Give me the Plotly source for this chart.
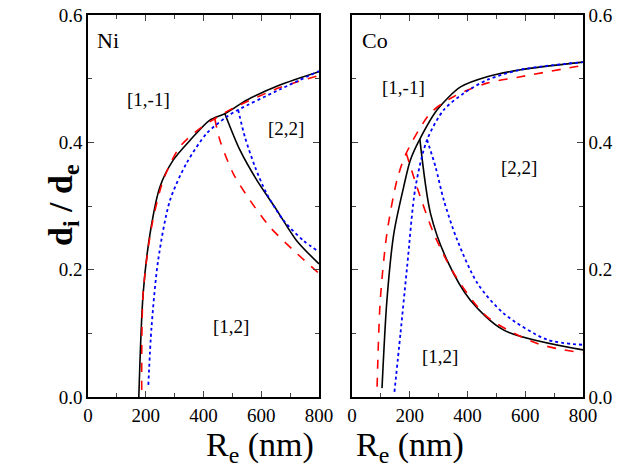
import plotly.graph_objects as go

# Ni panel
ni_black_up_x = [176, 191, 215, 249, 295, 353, 422, 474, 549, 664, 800]
ni_black_up_y = [0.0, 0.163, 0.257, 0.33, 0.372, 0.403, 0.435, 0.445, 0.466, 0.49, 0.511]
ni_black_lo_x = [474, 526, 584, 653, 722, 800]
ni_black_lo_y = [0.445, 0.388, 0.341, 0.294, 0.246, 0.209]

ni_red_up_x = [186, 191, 220, 261, 318, 388, 439, 491, 664, 800]
ni_red_up_y = [0.011, 0.163, 0.267, 0.341, 0.393, 0.422, 0.437, 0.451, 0.486, 0.505]
ni_red_lo_x = [439, 457, 503, 561, 630, 722, 800]
ni_red_lo_y = [0.437, 0.403, 0.351, 0.309, 0.267, 0.226, 0.194]

ni_blue_up_x = [209, 220, 243, 284, 341, 411, 480, 520, 664, 800]
ni_blue_up_y = [0.019, 0.11, 0.215, 0.309, 0.367, 0.414, 0.44, 0.451, 0.483, 0.512]
ni_blue_lo_x = [520, 543, 578, 618, 676, 745, 800]
ni_blue_lo_y = [0.451, 0.409, 0.362, 0.32, 0.278, 0.246, 0.228]

# Co panel
co_black_up_x = [104, 121, 145, 179, 202, 235, 295, 376, 468, 584, 800]
co_black_up_y = [0.014, 0.152, 0.257, 0.33, 0.372, 0.405, 0.451, 0.487, 0.503, 0.514, 0.526]
co_black_lo_x = [235, 272, 329, 410, 526, 800]
co_black_lo_y = [0.405, 0.288, 0.215, 0.152, 0.105, 0.074]

co_red_up_x = [87, 98, 121, 156, 188, 272, 353, 468, 584, 800]
co_red_up_y = [0.016, 0.152, 0.257, 0.341, 0.383, 0.446, 0.472, 0.493, 0.503, 0.521]
co_red_lo_x = [188, 225, 283, 353, 468, 642, 800]
co_red_lo_y = [0.383, 0.33, 0.257, 0.194, 0.126, 0.084, 0.069]

co_blue_up_x = [147, 168, 191, 220, 260, 318, 387, 468, 584, 800]
co_blue_up_y = [0.008, 0.1, 0.205, 0.33, 0.404, 0.451, 0.477, 0.498, 0.514, 0.526]
co_blue_lo_x = [260, 289, 318, 364, 434, 526, 676, 800]
co_blue_lo_y = [0.404, 0.362, 0.309, 0.247, 0.179, 0.131, 0.09, 0.082]

FONT = "Liberation Serif"
black = dict(color="black", width=1.6)
red = dict(color="#ff0000", width=1.6, dash="dash")
blue = dict(color="#0000ff", width=1.8, dash="dot")

fig = go.Figure()
sets = [
    ("x", "y", [(ni_black_up_x, ni_black_up_y, black), (ni_black_lo_x, ni_black_lo_y, black),
                (ni_red_up_x, ni_red_up_y, red), (ni_red_lo_x, ni_red_lo_y, red),
                (ni_blue_up_x, ni_blue_up_y, blue), (ni_blue_lo_x, ni_blue_lo_y, blue)]),
    ("x2", "y2", [(co_black_up_x, co_black_up_y, black), (co_black_lo_x, co_black_lo_y, black),
                  (co_red_up_x, co_red_up_y, red), (co_red_lo_x, co_red_lo_y, red),
                  (co_blue_up_x, co_blue_up_y, blue), (co_blue_lo_x, co_blue_lo_y, blue)]),
]
for xa, ya, lines in sets:
    for xs, ys, ln in lines:
        fig.add_trace(go.Scatter(x=xs, y=ys, mode="lines",
                                 line=dict(ln, shape="spline", smoothing=0.8),
                                 xaxis=xa, yaxis=ya, showlegend=False))

tickfont = dict(family=FONT, size=19, color="black")
ax = dict(range=[0, 800], dtick=200, ticks="inside", ticklen=6, showline=True, linecolor="black",
          linewidth=1.5, mirror="allticks", showgrid=False, zeroline=False, tickfont=tickfont,
          automargin=False, ticklabeloverflow="allow",
          minor=dict(dtick=100, ticks="inside", ticklen=4))
ay = dict(range=[0, 0.6], dtick=0.2, tickformat=".1f", ticks="inside", ticklen=6, showline=True,
          linecolor="black", linewidth=1.5, mirror="allticks", showgrid=False, zeroline=False,
          tickfont=tickfont, automargin=False, ticklabeloverflow="allow",
          minor=dict(dtick=0.1, ticks="inside", ticklen=4))
fig.update_layout(
    width=635, height=474, margin=dict(l=80, r=60, t=7, b=85),
    plot_bgcolor="white", paper_bgcolor="white",
    xaxis=dict(ax, domain=[0, 0.4667]),
    yaxis=dict(ay, domain=[0, 1]),
    xaxis2=dict(ax, domain=[0.5333, 1], anchor="y2"),
    yaxis2=dict(ay, domain=[0, 1], anchor="x2", side="right"),
)

lab = dict(family=FONT, color="black")
notes = [
    ("x", "y", 69, 0.56, "Ni", 22), ("x", "y", 211, 0.468, "[1,-1]", 19),
    ("x", "y", 685, 0.421, "[2,2]", 19), ("x", "y", 495, 0.111, "[1,2]", 19),
    ("x2", "y2", 80, 0.56, "Co", 22), ("x2", "y2", 180, 0.486, "[1,-1]", 19),
    ("x2", "y2", 578, 0.36, "[2,2]", 19), ("x2", "y2", 305, 0.063, "[1,2]", 19),
]
for xr, yr, x, y, t, s in notes:
    fig.add_annotation(x=x, y=y, xref=xr, yref=yr, text=t, showarrow=False,
                       font=dict(lab, size=s))

# paper coords are relative to the plot area
title_font = dict(family=FONT, size=34, color="black")
fig.add_annotation(x=(204 - 88) / 495, y=-0.19, xref="paper", yref="paper", yanchor="bottom",
                   text="R<sub>e</sub> (nm)", showarrow=False, font=title_font)
fig.add_annotation(x=(466 - 88) / 495, y=-0.19, xref="paper", yref="paper", yanchor="bottom",
                   text="R<sub>e</sub> (nm)", showarrow=False, font=title_font)
fig.add_annotation(x=(40 - 88) / 495, y=0.5, xref="paper", yref="paper", textangle=-90,
                   text="<b>d<sub>i</sub> / d<sub>e</sub></b>", showarrow=False, font=title_font)

fig.write_html("out.html")
